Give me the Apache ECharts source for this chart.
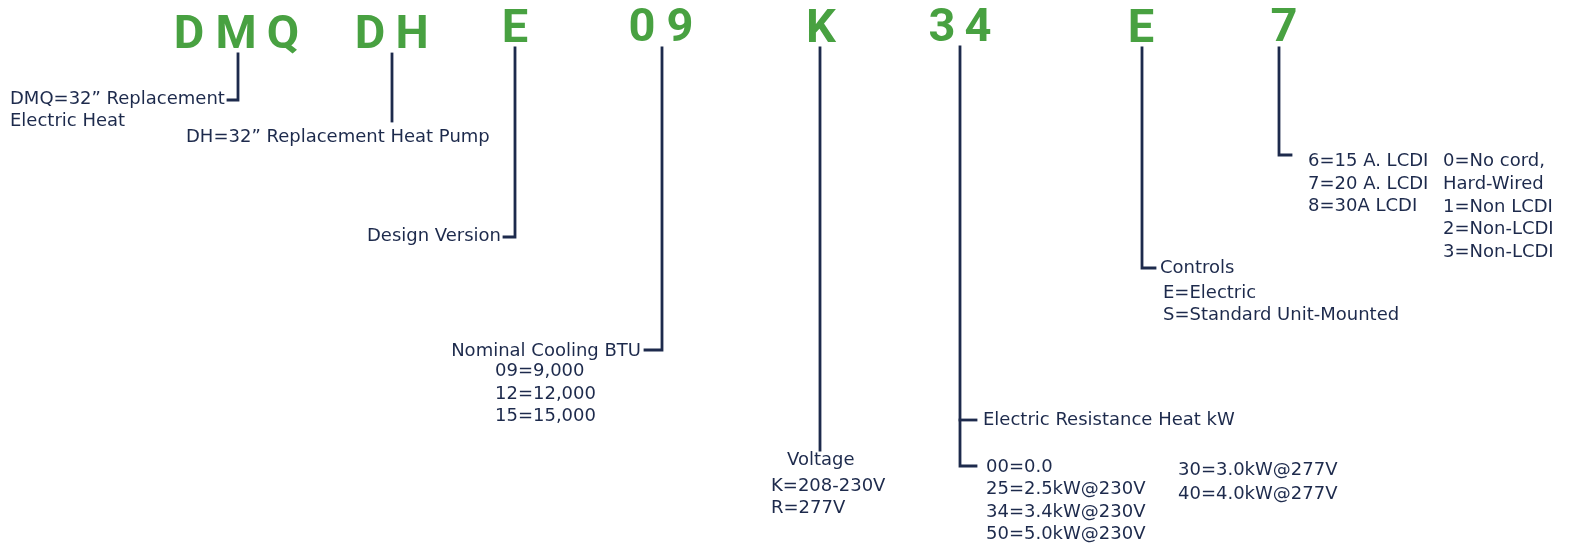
<!DOCTYPE html>
<html><head><meta charset="utf-8">
<script src="https://cdn.jsdelivr.net/npm/echarts@6/dist/echarts.min.js"></script>
<style>html,body{margin:0;padding:0;background:#fff}#c{width:1570px;height:550px}</style>
</head><body><div id="c"></div>
<script>
// Model-number code characters (green) and their centre x positions
var codeChars = ['D','M','Q','D','H','E','0','9','K','3','4','E','7'];
var codeX     = [189, 236, 283, 370, 412, 515, 642, 680, 821, 942, 978, 1141, 1284];
var codeY     = [36, 36, 36, 36, 36, 30, 29, 29, 30, 29, 29, 30, 29];

// Connector polylines (diagram coordinates)
var connectors = [
  [[238,54],[238,100],[228,100]],
  [[392,54],[392,121]],
  [[515,48],[515,237],[504,237]],
  [[662,48],[662,350],[645,350]],
  [[820,48],[820,450]],
  [[960,47],[960,466],[976,466]],
  [[960,420],[976,420]],
  [[1142,48],[1142,268],[1155,268]],
  [[1279,48],[1279,155],[1291,155]]
];

// Description texts
var descTexts = [
  'DMQ=32\u201D Replacement','Electric Heat',
  'DH=32\u201D Replacement Heat Pump',
  'Design Version',
  'Nominal Cooling BTU','09=9,000','12=12,000','15=15,000',
  'Voltage','K=208-230V','R=277V',
  'Electric Resistance Heat kW',
  '00=0.0','25=2.5kW@230V','34=3.4kW@230V','50=5.0kW@230V',
  '30=3.0kW@277V','40=4.0kW@277V',
  'Controls','E=Electric','S=Standard Unit-Mounted',
  '6=15 A. LCDI','7=20 A. LCDI','8=30A LCDI',
  '0=No cord,','Hard-Wired','1=Non LCDI','2=Non-LCDI','3=Non-LCDI'
];
var descX = [
  10,10,
  186,
  501,
  641,495,495,495,
  787,771,771,
  983,
  986,986,986,986,
  1178,1178,
  1160,1163,1163,
  1308,1308,1308,
  1443,1443,1443,1443,1443
];
var descY = [
  99,121,
  137,
  236,
  351,371,394,416,
  460,486,508,
  420,
  467,489,512,534,
  470,494,
  268,293,315,
  161,184,206,
  161,184,207,229,252
];
var descAlign = [
  'left','left','left','right',
  'right','left','left','left',
  'left','left','left','left',
  'left','left','left','left','left','left',
  'left','left','left','left','left','left',
  'left','left','left','left','left'
];

var GREEN = '#48a141', NAVY = '#1d2a4c';
var FONT = '"DejaVu Sans", sans-serif';

var codeData = codeChars.map(function(c,i){ return [codeX[i], codeY[i], c]; });
var descData = descTexts.map(function(t,i){
  return { value:[descX[i], descY[i], t], label:{ align: descAlign[i] } };
});
var lineData = connectors.map(function(c){ return { coords: c }; });

var chart = echarts.init(document.getElementById('c'));
chart.setOption({
  animation:false,
  grid:{left:0,right:0,top:0,bottom:0},
  xAxis:{type:'value',min:0,max:1570,show:false},
  yAxis:{type:'value',min:0,max:550,inverse:true,show:false},
  series:[
    { type:'lines', coordinateSystem:'cartesian2d', polyline:true,
      lineStyle:{color:NAVY,width:2.8,opacity:1,cap:'square',join:'miter'},
      data:lineData, silent:true },
    { type:'scatter', symbolSize:0, data:codeData, silent:true, itemStyle:{opacity:1},
      label:{show:true,position:'inside',align:'center',verticalAlign:'middle',opacity:1,
        formatter:function(p){return p.value[2];},
        color:GREEN,fontFamily:'Roboto, sans-serif',fontWeight:'bold',fontSize:47} },
    { type:'scatter', symbolSize:0, data:descData, silent:true, itemStyle:{opacity:1},
      label:{show:true,position:'inside',verticalAlign:'middle',opacity:1,
        formatter:function(p){return p.value[2];},
        color:NAVY,fontFamily:FONT,fontSize:18} }
  ]
});
</script></body></html>
